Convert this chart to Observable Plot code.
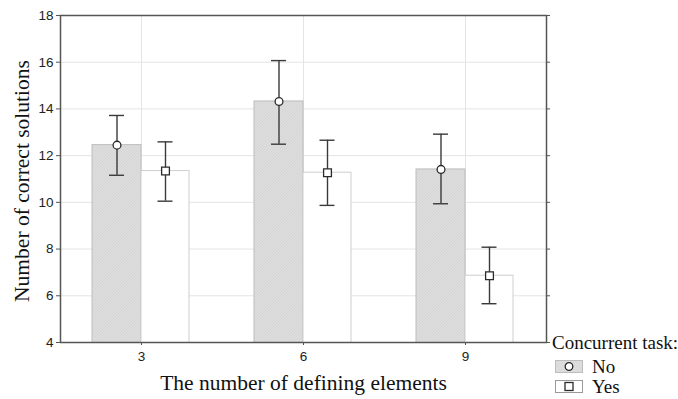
<!DOCTYPE html>
<html><head><meta charset="utf-8">
<script src="https://cdn.jsdelivr.net/npm/d3@7"></script>
<script src="https://cdn.jsdelivr.net/npm/@observablehq/plot@0.6"></script>
<style>
body{margin:0;background:#fff}
#wrap{position:relative;width:678px;height:399px;overflow:hidden}
.lg{position:absolute;font-family:"Liberation Serif","Times New Roman",serif;font-size:19px;color:#111;line-height:1;white-space:nowrap}
.box{position:absolute;width:28px;height:13px;box-sizing:border-box}
.box svg{position:absolute;left:0;top:0}
</style></head><body><div id="wrap"></div>
<script>
const groups = ["3", "6", "9"];
const series = ["No", "Yes"];
const noMean = [12.45, 14.32, 11.41];
const noLow = [11.16, 12.49, 9.94];
const noHigh = [13.72, 16.07, 12.92];
const yesMean = [11.34, 11.27, 6.86];
const yesLow = [10.05, 9.87, 5.66];
const yesHigh = [12.59, 12.66, 8.08];
const yTicks = [4, 6, 8, 10, 12, 14, 16, 18];

const no = groups.map((g, i) => ({group: g, mean: noMean[i], low: noLow[i], high: noHigh[i]}));
const yes = groups.map((g, i) => ({group: g, mean: yesMean[i], low: yesLow[i], high: yesHigh[i]}));

const ink = "#3a3a3a";
const gridColor = "#e4e4e4";
const serif = "'Liberation Serif', 'Times New Roman', serif";

const chart = Plot.plot({
  width: 678,
  height: 399,
  marginLeft: 60,
  marginRight: 132,
  marginTop: 15,
  marginBottom: 57,
  style: {background: "white", color: "#222", fontFamily: "'Liberation Sans', Arial, sans-serif", fontSize: "13px"},
  x: {type: "band", domain: groups, padding: 0, label: null},
  y: {domain: [4, 18], label: null},
  marks: [
    Plot.gridY(yTicks, {stroke: gridColor, strokeOpacity: 1}),
    Plot.gridX(groups, {stroke: gridColor, strokeOpacity: 1}),
    Plot.barY(no, {x: "group", y: "mean", fill: "url(#hatch)", stroke: "#bdbdbd", strokeWidth: 1, insetLeft: 32, insetRight: 81, clip: true}),
    Plot.barY(yes, {x: "group", y: "mean", fill: "white", stroke: "#cfcfcf", strokeWidth: 1, insetLeft: 81, insetRight: 33, clip: true}),
    Plot.ruleX(no, {x: "group", y1: "low", y2: "high", dx: -24.5, stroke: ink, strokeWidth: 1.4}),
    Plot.tickY(no, {x: "group", y: "low", insetLeft: 49, insetRight: 98, stroke: ink, strokeWidth: 1.4}),
    Plot.tickY(no, {x: "group", y: "high", insetLeft: 49, insetRight: 98, stroke: ink, strokeWidth: 1.4}),
    Plot.ruleX(yes, {x: "group", y1: "low", y2: "high", dx: 24, stroke: ink, strokeWidth: 1.4}),
    Plot.tickY(yes, {x: "group", y: "low", insetLeft: 97.5, insetRight: 49.5, stroke: ink, strokeWidth: 1.4}),
    Plot.tickY(yes, {x: "group", y: "high", insetLeft: 97.5, insetRight: 49.5, stroke: ink, strokeWidth: 1.4}),
    Plot.dot(no, {x: "group", y: "mean", dx: -24.5, symbol: "circle", r: 3.9, fill: "white", stroke: "#2a2a2a", strokeWidth: 1.3}),
    Plot.dot(yes, {x: "group", y: "mean", dx: 24, symbol: "square", r: 4.4, fill: "white", stroke: "#2a2a2a", strokeWidth: 1.3}),
    Plot.frame({stroke: "#555", strokeWidth: 1.5}),
    Plot.axisY(yTicks, {anchor: "left", tickSize: 4, tickPadding: 3, fontSize: 13, stroke: "#555", label: null}),
    Plot.axisY(yTicks, {anchor: "right", tickSize: 3, tickFormat: () => "", stroke: "#555", label: null}),
    Plot.axisX(groups, {anchor: "bottom", tickSize: 3, tickPadding: 6, fontSize: 13, stroke: "#555", label: null}),
    Plot.text(["Number of correct solutions"], {frameAnchor: "left", textAnchor: "middle", lineAnchor: "middle", rotate: -90, dx: -38, dy: 2, fontSize: 21.5, fontFamily: serif, fill: "#111"}),
    Plot.text(["The number of defining elements"], {frameAnchor: "bottom", textAnchor: "middle", lineAnchor: "middle", dy: 41, fontSize: 21.5, fontFamily: serif, fill: "#111"})
  ]
});

const svg = d3.select(chart);
svg.selectAll("text").filter(function () { return /^\d+$/.test(this.textContent.trim()); })
  .style("font-size", "13.5px").style("font-family", "'Liberation Sans', Arial, sans-serif").attr("fill", "#222");
const defs = svg.insert("defs", ":first-child");
const pat = defs.append("pattern").attr("id", "hatch").attr("patternUnits", "userSpaceOnUse").attr("width", 3).attr("height", 3);
pat.append("rect").attr("width", 3).attr("height", 3).attr("fill", "#dddddd");
pat.append("path").attr("d", "M-1,1 l2,-2 M0,3 l3,-3 M2,4 l2,-2").attr("stroke", "#d3d3d3").attr("stroke-width", 0.8);

const wrap = document.getElementById("wrap");
wrap.appendChild(chart);

// Legend
const legendTitle = "Concurrent task:";
function addLegend() {
  const t = document.createElement("div");
  t.className = "lg"; t.textContent = legendTitle;
  t.style.left = "552px"; t.style.top = "333px";
  wrap.appendChild(t);
  series.forEach((s, i) => {
    const top = 360 + i * 20;
    const b = document.createElement("div");
    b.className = "box";
    b.style.left = "555px"; b.style.top = top + "px";
    b.style.background = i === 0 ? "#dcdcdc" : "white";
    b.style.border = "1px solid " + (i === 0 ? "#bdbdbd" : "#9a9a9a");
    const sym = i === 0
      ? '<circle cx="13" cy="5.5" r="3.8" fill="white" stroke="#2a2a2a" stroke-width="1.3"/>'
      : '<rect x="9" y="1.5" width="8" height="8" fill="white" stroke="#2a2a2a" stroke-width="1.3"/>';
    b.innerHTML = '<svg width="26" height="11">' + sym + '</svg>';
    wrap.appendChild(b);
    const l = document.createElement("div");
    l.className = "lg"; l.textContent = s;
    l.style.left = "592px"; l.style.top = (top - 3) + "px";
    wrap.appendChild(l);
  });
}
addLegend();
</script></body></html>
